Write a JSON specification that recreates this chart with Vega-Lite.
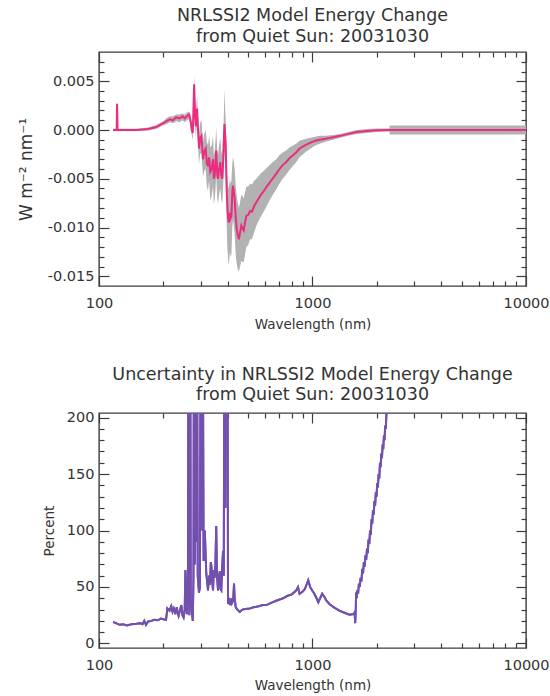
{
  "$schema": "https://vega.github.io/schema/vega-lite/v6.json",
  "autosize": {"type": "none"},
  "padding": {"left": 99, "top": 52, "right": 451, "bottom": 644},
  "background": "white",
  "bounds": "flush",
  "spacing": 127,
  "config": {
    "view": {"stroke": "#3c3c3c", "strokeWidth": 1.4},
    "axis": {
      "domain": false, "grid": false, "tickColor": "#3c3c3c", "tickWidth": 1.2,
      "labelFont": "DejaVu Sans", "labelFontSize": 14.5, "labelColor": "#333333",
      "titleFont": "DejaVu Sans", "titleFontWeight": "normal", "titleColor": "#333333",
      "labelOverlap": false, "labelBound": false, "labelFlush": false
    },
    "title": {"font": "DejaVu Sans", "fontSize": 17.5, "fontWeight": "normal", "color": "#333333", "anchor": "middle", "lineHeight": 20.5, "offset": 6}
  },
  "vconcat": [
    {
      "width": 427, "height": 234,
      "title": {"text": ["NRLSSI2 Model Energy Change", "from Quiet Sun: 20031030"]},
      "data": {"values": [
        {"wl":116.5,"v":0,"lo":-0.00012,"hi":0.00012},
        {"wl":121.0,"v":0,"lo":-0.00012,"hi":0.00012},
        {"wl":121.5,"v":0.0027,"lo":0.0026,"hi":0.0028},
        {"wl":122.2,"v":0,"lo":-0.00012,"hi":0.00012},
        {"wl":130,"v":0,"lo":-0.00012,"hi":0.00012},
        {"wl":150,"v":0,"lo":-0.00012,"hi":0.00012},
        {"wl":170,"v":0.0001,"lo":-0.00005,"hi":0.00025},
        {"wl":185,"v":0.0003,"lo":0.0001,"hi":0.0005},
        {"wl":200,"v":0.0007,"lo":0.0005,"hi":0.0009},
        {"wl":207,"v":0.0009,"lo":0.0006,"hi":0.0012},
        {"wl":215,"v":0.0011,"lo":0.0008,"hi":0.0014},
        {"wl":222,"v":0.0010,"lo":0.0007,"hi":0.0014},
        {"wl":230,"v":0.0013,"lo":0.0009,"hi":0.0016},
        {"wl":238,"v":0.0012,"lo":0.0008,"hi":0.0016},
        {"wl":246,"v":0.0014,"lo":0.0010,"hi":0.0017},
        {"wl":252,"v":0.0012,"lo":0.0008,"hi":0.0016},
        {"wl":258,"v":0.0014,"lo":0.0010,"hi":0.0018},
        {"wl":264,"v":0.0016,"lo":0.0011,"hi":0.0019},
        {"wl":268,"v":0.0011,"lo":0.0006,"hi":0.0015},
        {"wl":272,"v":0.0000,"lo":-0.0006,"hi":0.0006},
        {"wl":275,"v":-0.0003,"lo":-0.0010,"hi":0.0005},
        {"wl":279,"v":0.0047,"lo":0.0035,"hi":0.0056},
        {"wl":282,"v":0.0015,"lo":0.0003,"hi":0.0030},
        {"wl":284,"v":0.0004,"lo":-0.0008,"hi":0.0016},
        {"wl":288,"v":0.0022,"lo":0.0008,"hi":0.0036},
        {"wl":291,"v":0.0000,"lo":-0.0014,"hi":0.0014},
        {"wl":294,"v":-0.0019,"lo":-0.0035,"hi":-0.0003},
        {"wl":298,"v":-0.0008,"lo":-0.0024,"hi":0.0008},
        {"wl":302,"v":-0.0006,"lo":-0.0024,"hi":0.0010},
        {"wl":307,"v":-0.0030,"lo":-0.0048,"hi":-0.0012},
        {"wl":311,"v":-0.0022,"lo":-0.0042,"hi":-0.0004},
        {"wl":316,"v":-0.0019,"lo":-0.0040,"hi":0.0000},
        {"wl":320,"v":-0.0034,"lo":-0.0058,"hi":-0.0012},
        {"wl":324,"v":-0.0037,"lo":-0.0062,"hi":-0.0015},
        {"wl":328,"v":-0.0028,"lo":-0.0052,"hi":-0.0006},
        {"wl":332,"v":-0.0043,"lo":-0.0072,"hi":-0.0018},
        {"wl":337,"v":-0.0040,"lo":-0.0068,"hi":-0.0016},
        {"wl":342,"v":-0.0030,"lo":-0.0058,"hi":-0.0006},
        {"wl":345,"v":-0.0050,"lo":-0.0076,"hi":-0.0026},
        {"wl":348,"v":-0.0047,"lo":-0.0072,"hi":-0.0022},
        {"wl":351,"v":-0.0036,"lo":-0.0062,"hi":-0.0012},
        {"wl":354,"v":-0.0021,"lo":-0.0048,"hi":0.0002},
        {"wl":358,"v":-0.0045,"lo":-0.0070,"hi":-0.0020},
        {"wl":361,"v":-0.0050,"lo":-0.0076,"hi":-0.0026},
        {"wl":365,"v":-0.0040,"lo":-0.0066,"hi":-0.0016},
        {"wl":370,"v":-0.0033,"lo":-0.0060,"hi":-0.0008},
        {"wl":374,"v":-0.0047,"lo":-0.0072,"hi":-0.0022},
        {"wl":378,"v":-0.0050,"lo":-0.0075,"hi":-0.0026},
        {"wl":382,"v":-0.0030,"lo":-0.0056,"hi":-0.0004},
        {"wl":385,"v":-0.0005,"lo":-0.0030,"hi":0.0022},
        {"wl":387,"v":0.0006,"lo":-0.0020,"hi":0.0042},
        {"wl":390,"v":-0.0005,"lo":-0.0032,"hi":0.0020},
        {"wl":392,"v":-0.0013,"lo":-0.0040,"hi":0.0012},
        {"wl":396,"v":-0.0060,"lo":-0.0095,"hi":-0.0030},
        {"wl":399,"v":-0.0078,"lo":-0.0120,"hi":-0.0045},
        {"wl":403,"v":-0.0092,"lo":-0.0135,"hi":-0.0058},
        {"wl":406,"v":-0.0095,"lo":-0.0138,"hi":-0.0060},
        {"wl":410,"v":-0.0085,"lo":-0.0125,"hi":-0.0050},
        {"wl":414,"v":-0.0090,"lo":-0.0130,"hi":-0.0055},
        {"wl":417,"v":-0.0088,"lo":-0.0128,"hi":-0.0052},
        {"wl":421,"v":-0.0065,"lo":-0.0100,"hi":-0.0035},
        {"wl":424,"v":-0.0057,"lo":-0.0092,"hi":-0.0028},
        {"wl":428,"v":-0.0063,"lo":-0.0098,"hi":-0.0032},
        {"wl":432,"v":-0.0071,"lo":-0.0108,"hi":-0.0040},
        {"wl":437,"v":-0.0090,"lo":-0.0128,"hi":-0.0058},
        {"wl":442,"v":-0.0102,"lo":-0.0138,"hi":-0.0068},
        {"wl":447,"v":-0.0108,"lo":-0.0143,"hi":-0.0075},
        {"wl":452,"v":-0.0112,"lo":-0.0145,"hi":-0.0080},
        {"wl":458,"v":-0.0105,"lo":-0.0140,"hi":-0.0074},
        {"wl":464,"v":-0.0098,"lo":-0.0134,"hi":-0.0066},
        {"wl":470,"v":-0.0101,"lo":-0.0135,"hi":-0.0068},
        {"wl":476,"v":-0.0103,"lo":-0.0136,"hi":-0.0070},
        {"wl":483,"v":-0.0095,"lo":-0.0128,"hi":-0.0064},
        {"wl":490,"v":-0.0088,"lo":-0.0120,"hi":-0.0058},
        {"wl":500,"v":-0.0087,"lo":-0.0118,"hi":-0.0058},
        {"wl":510,"v":-0.0083,"lo":-0.0112,"hi":-0.0055},
        {"wl":520,"v":-0.0084,"lo":-0.0112,"hi":-0.0056},
        {"wl":533,"v":-0.0078,"lo":-0.0105,"hi":-0.0052},
        {"wl":546,"v":-0.0074,"lo":-0.0098,"hi":-0.0050},
        {"wl":560,"v":-0.0070,"lo":-0.0093,"hi":-0.0047},
        {"wl":575,"v":-0.0066,"lo":-0.0088,"hi":-0.0044},
        {"wl":590,"v":-0.0063,"lo":-0.0084,"hi":-0.0042},
        {"wl":610,"v":-0.0058,"lo":-0.0078,"hi":-0.0039},
        {"wl":630,"v":-0.0054,"lo":-0.0072,"hi":-0.0036},
        {"wl":650,"v":-0.0050,"lo":-0.0067,"hi":-0.0033},
        {"wl":676,"v":-0.0045,"lo":-0.0061,"hi":-0.0030},
        {"wl":700,"v":-0.0040,"lo":-0.0055,"hi":-0.0026},
        {"wl":725,"v":-0.0036,"lo":-0.0050,"hi":-0.0023},
        {"wl":752,"v":-0.0033,"lo":-0.0046,"hi":-0.0021},
        {"wl":780,"v":-0.0029,"lo":-0.0041,"hi":-0.0018},
        {"wl":810,"v":-0.0026,"lo":-0.0037,"hi":-0.0016},
        {"wl":838,"v":-0.0023,"lo":-0.0033,"hi":-0.0014},
        {"wl":870,"v":-0.0019,"lo":-0.0028,"hi":-0.0011},
        {"wl":900,"v":-0.0017,"lo":-0.0025,"hi":-0.0010},
        {"wl":935,"v":-0.0015,"lo":-0.0022,"hi":-0.0009},
        {"wl":980,"v":-0.0013,"lo":-0.0019,"hi":-0.0008},
        {"wl":1030,"v":-0.0011,"lo":-0.0016,"hi":-0.0007},
        {"wl":1080,"v":-0.0010,"lo":-0.0014,"hi":-0.0006},
        {"wl":1150,"v":-0.0009,"lo":-0.0012,"hi":-0.0006},
        {"wl":1250,"v":-0.00075,"lo":-0.0010,"hi":-0.0005},
        {"wl":1350,"v":-0.0006,"lo":-0.0008,"hi":-0.0004},
        {"wl":1470,"v":-0.0004,"lo":-0.0006,"hi":-0.0002},
        {"wl":1610,"v":-0.0002,"lo":-0.0004,"hi":0.0000},
        {"wl":1800,"v":-0.0001,"lo":-0.0003,"hi":0.0001},
        {"wl":2000,"v":-0.00003,"lo":-0.0002,"hi":0.00015},
        {"wl":2290,"v":0,"lo":-0.00015,"hi":0.00015},
        {"wl":2300,"v":0,"lo":-0.00045,"hi":0.00045},
        {"wl":5000,"v":0,"lo":-0.00045,"hi":0.00045},
        {"wl":10000,"v":0,"lo":-0.00045,"hi":0.00045}
      ]},
      "layer": [
        {
          "mark": {"type": "area", "color": "#b2b2b2", "clip": true},
          "encoding": {
            "x": {"field": "wl", "type": "quantitative", "scale": {"type": "log", "domain": [100, 10000], "nice": false},
              "axis": {"orient": "bottom", "values": [100,200,300,400,500,600,700,800,900,1000,2000,3000,4000,5000,6000,7000,8000,9000,10000],
                "tickSize": {"condition": {"test": "datum.value==100||datum.value==1000||datum.value==10000", "value": -10}, "value": -5},
                "labelExpr": "datum.value==100||datum.value==1000||datum.value==10000 ? format(datum.value,'d') : ''",
                "labelPadding": 20, "title": "Wavelength (nm)", "titleFontSize": 13.5, "titlePadding": 3}},
            "y": {"field": "lo", "type": "quantitative", "scale": {"domain": [-0.016, 0.008], "nice": false, "zero": false},
              "axis": {"orient": "left", "values": [-0.015,-0.014,-0.013,-0.012,-0.011,-0.010,-0.009,-0.008,-0.007,-0.006,-0.005,-0.004,-0.003,-0.002,-0.001,0,0.001,0.002,0.003,0.004,0.005,0.006,0.007],
                "tickSize": {"condition": {"test": "abs(round(datum.value*1000)%5)==0", "value": -10}, "value": -5},
                "labelExpr": "abs(round(datum.value*1000)%5)==0 ? replace(format(datum.value,'.3f'),'\u2212','-') : ''",
                "labelPadding": 15, "title": "W m\u207b\u00b2 nm\u207b\u00b9", "titleFontSize": 17, "titlePadding": 12}},
            "y2": {"field": "hi"}
          }
        },
        {
          "mark": {"type": "line", "color": "#ea2d7e", "strokeWidth": 2, "clip": true},
          "encoding": {
            "x": {"field": "wl", "type": "quantitative", "scale": {"type": "log", "domain": [100, 10000], "nice": false},
              "axis": {"orient": "top", "values": [100,200,300,400,500,600,700,800,900,1000,2000,3000,4000,5000,6000,7000,8000,9000,10000],
                "tickSize": {"condition": {"test": "datum.value==100||datum.value==1000||datum.value==10000", "value": -10}, "value": -5},
                "labels": false, "title": null}},
            "y": {"field": "v", "type": "quantitative", "scale": {"domain": [-0.016, 0.008], "nice": false, "zero": false},
              "axis": {"orient": "right", "values": [-0.015,-0.014,-0.013,-0.012,-0.011,-0.010,-0.009,-0.008,-0.007,-0.006,-0.005,-0.004,-0.003,-0.002,-0.001,0,0.001,0.002,0.003,0.004,0.005,0.006,0.007],
                "tickSize": {"condition": {"test": "abs(round(datum.value*1000)%5)==0", "value": -10}, "value": -5},
                "labels": false, "title": null}}
          }
        }
      ]
    },
    {
      "width": 427, "height": 235,
      "title": {"text": ["Uncertainty in NRLSSI2 Model Energy Change", "from Quiet Sun: 20031030"]},
      "data": {"values": [
        {"wl":116.5,"p":19},{"wl":120,"p":18},{"wl":125,"p":16.5},{"wl":130,"p":17},{"wl":135,"p":16},
        {"wl":142,"p":17},{"wl":150,"p":17.5},{"wl":156,"p":18},{"wl":160,"p":17},{"wl":163,"p":20},
        {"wl":166,"p":16.5},{"wl":170,"p":19.5},{"wl":176,"p":20},{"wl":181,"p":21},{"wl":188,"p":20.5},
        {"wl":195,"p":22},{"wl":200,"p":21.5},{"wl":206,"p":21},{"wl":209,"p":31},{"wl":214,"p":29},
        {"wl":218,"p":33},{"wl":221,"p":28},{"wl":224,"p":31},{"wl":228,"p":26},{"wl":231,"p":32},
        {"wl":234,"p":27},{"wl":236,"p":24.5},{"wl":240,"p":30},{"wl":243,"p":34},{"wl":246,"p":25},
        {"wl":249,"p":23},{"wl":252,"p":30},{"wl":254,"p":65},{"wl":256,"p":40},{"wl":258,"p":26},
        {"wl":261,"p":60},{"wl":263,"p":400},{"wl":265,"p":25},{"wl":267,"p":400},{"wl":269,"p":40},
        {"wl":272,"p":28},{"wl":275,"p":20},{"wl":277,"p":60},{"wl":279,"p":400},{"wl":281,"p":70},
        {"wl":283,"p":400},{"wl":285,"p":90},{"wl":287,"p":400},{"wl":290,"p":60},{"wl":294,"p":45},
        {"wl":297,"p":50},{"wl":300,"p":400},{"wl":303,"p":100},{"wl":305,"p":400},{"wl":309,"p":73},
        {"wl":313,"p":100},{"wl":318,"p":62},{"wl":321,"p":55},
        {"wl":324,"p":47},{"wl":328,"p":60},{"wl":331,"p":52},{"wl":334,"p":72},{"wl":336,"p":69},
        {"wl":339,"p":55},{"wl":342,"p":47},{"wl":345,"p":65},{"wl":348,"p":58},{"wl":351,"p":70},
        {"wl":354,"p":104},{"wl":357,"p":60},{"wl":361,"p":47},{"wl":364,"p":58},{"wl":368,"p":64},
        {"wl":371,"p":48},{"wl":374,"p":47},{"wl":377,"p":65},{"wl":381,"p":82},{"wl":384,"p":60},
        {"wl":388,"p":400},{"wl":391,"p":120},{"wl":394,"p":400},{"wl":397,"p":200},{"wl":399,"p":400},
        {"wl":402,"p":35},{"wl":407,"p":38},{"wl":412,"p":34},{"wl":417,"p":40},{"wl":420,"p":36},
        {"wl":425,"p":38},{"wl":429,"p":53},{"wl":432,"p":40},{"wl":437,"p":32},{"wl":445,"p":30},
        {"wl":456,"p":28},{"wl":470,"p":30},{"wl":485,"p":30.5},{"wl":508,"p":31},{"wl":530,"p":32},
        {"wl":560,"p":33},{"wl":585,"p":34},{"wl":608,"p":34},{"wl":640,"p":36},{"wl":680,"p":38},
        {"wl":728,"p":40},{"wl":760,"p":42},{"wl":800,"p":43.5},{"wl":838,"p":46.8},{"wl":855,"p":50},
        {"wl":870,"p":44},{"wl":900,"p":46},{"wl":920,"p":48},{"wl":955,"p":56},{"wl":975,"p":50},
        {"wl":992,"p":47.5},{"wl":1020,"p":44},{"wl":1045,"p":40},{"wl":1065,"p":36.5},{"wl":1085,"p":40},
        {"wl":1110,"p":44},{"wl":1140,"p":41},{"wl":1160,"p":38},{"wl":1200,"p":35},{"wl":1260,"p":32},
        {"wl":1335,"p":29},{"wl":1420,"p":27},{"wl":1490,"p":25.5},{"wl":1560,"p":26},{"wl":1575,"p":27.5},
        {"wl":1585,"p":18},{"wl":1595,"p":30},{"wl":1600,"p":45},{"wl":1610,"p":40},{"wl":1620,"p":47},
        {"wl":1635,"p":44},{"wl":1650,"p":53},{"wl":1665,"p":50},{"wl":1680,"p":58},{"wl":1695,"p":55},
        {"wl":1710,"p":66},{"wl":1725,"p":62},{"wl":1740,"p":72},{"wl":1755,"p":68},{"wl":1770,"p":78},
        {"wl":1785,"p":74},{"wl":1800,"p":84},{"wl":1815,"p":80},{"wl":1830,"p":92},{"wl":1845,"p":88},
        {"wl":1860,"p":100},{"wl":1875,"p":96},{"wl":1890,"p":110},{"wl":1905,"p":106},{"wl":1920,"p":118},
        {"wl":1935,"p":114},{"wl":1950,"p":126},{"wl":1965,"p":122},{"wl":1980,"p":134},{"wl":1995,"p":130},
        {"wl":2010,"p":142},{"wl":2025,"p":138},{"wl":2040,"p":150},{"wl":2055,"p":146},{"wl":2070,"p":160},
        {"wl":2085,"p":156},{"wl":2100,"p":168},{"wl":2115,"p":164},{"wl":2130,"p":176},{"wl":2145,"p":172},
        {"wl":2160,"p":184},{"wl":2175,"p":180},{"wl":2190,"p":193},{"wl":2205,"p":190},{"wl":2220,"p":204},
        {"wl":2240,"p":215},{"wl":2300,"p":260}
      ]},
      "layer": [
        {
          "mark": {"type": "line", "color": "#7350ad", "strokeWidth": 2, "clip": true},
          "encoding": {
            "x": {"field": "wl", "type": "quantitative", "scale": {"type": "log", "domain": [100, 10000], "nice": false},
              "axis": {"orient": "bottom", "values": [100,200,300,400,500,600,700,800,900,1000,2000,3000,4000,5000,6000,7000,8000,9000,10000],
                "tickSize": {"condition": {"test": "datum.value==100||datum.value==1000||datum.value==10000", "value": -10}, "value": -5},
                "labelExpr": "datum.value==100||datum.value==1000||datum.value==10000 ? format(datum.value,'d') : ''",
                "labelPadding": 20, "title": "Wavelength (nm)", "titleFontSize": 13.5, "titlePadding": 2}},
            "y": {"field": "p", "type": "quantitative", "scale": {"domain": [-4, 204], "nice": false, "zero": false},
              "axis": {"orient": "left", "values": [0,10,20,30,40,50,60,70,80,90,100,110,120,130,140,150,160,170,180,190,200],
                "tickSize": {"condition": {"test": "datum.value%50==0", "value": -10}, "value": -5},
                "labelExpr": "datum.value%50==0 ? format(datum.value,'d') : ''",
                "labelPadding": 15, "title": "Percent", "titleFontSize": 13.5, "titlePadding": 10}}
          }
        },
        {
          "mark": {"type": "line", "color": "#7350ad", "strokeWidth": 2, "clip": true},
          "encoding": {
            "x": {"field": "wl", "type": "quantitative", "scale": {"type": "log", "domain": [100, 10000], "nice": false},
              "axis": {"orient": "top", "values": [100,200,300,400,500,600,700,800,900,1000,2000,3000,4000,5000,6000,7000,8000,9000,10000],
                "tickSize": {"condition": {"test": "datum.value==100||datum.value==1000||datum.value==10000", "value": -10}, "value": -5},
                "labels": false, "title": null}},
            "y": {"field": "p", "type": "quantitative", "scale": {"domain": [-4, 204], "nice": false, "zero": false},
              "axis": {"orient": "right", "values": [0,10,20,30,40,50,60,70,80,90,100,110,120,130,140,150,160,170,180,190,200],
                "tickSize": {"condition": {"test": "datum.value%50==0", "value": -10}, "value": -5},
                "labels": false, "title": null}}
          }
        }
      ]
    }
  ]
}
